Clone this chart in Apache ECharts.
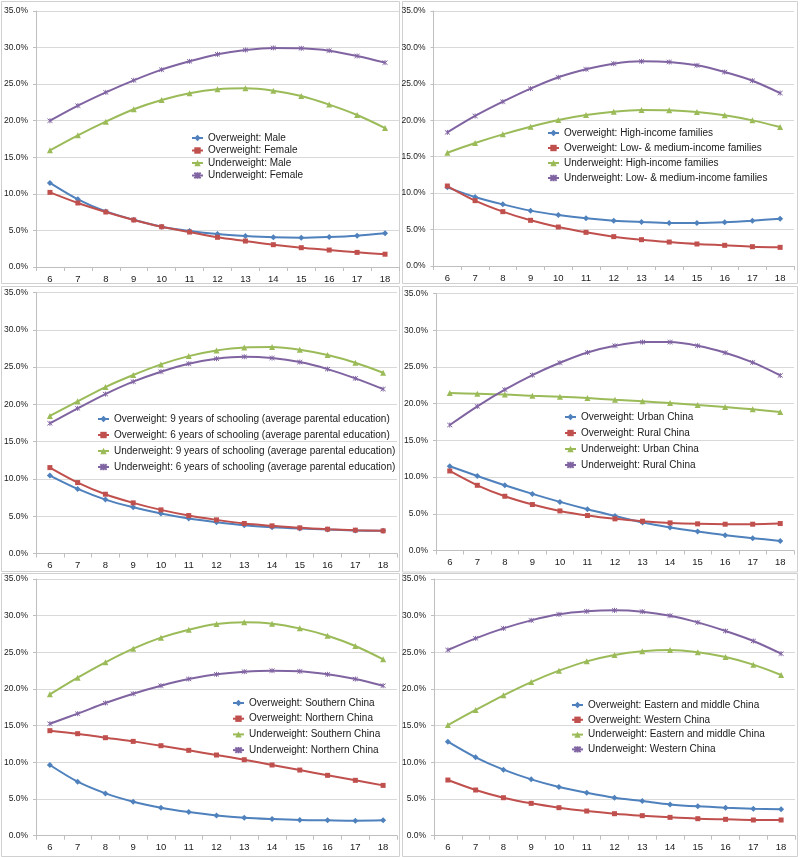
<!DOCTYPE html>
<html>
<head>
<meta charset="utf-8">
<script src="https://cdn.jsdelivr.net/npm/echarts@6/dist/echarts.min.js"></script>
<style>
html,body{margin:0;padding:0;background:#fff;}
#c{width:800px;height:857px;}
</style>
</head>
<body>
<div id="c"></div>
<script>
// Categories (age)
const ages = ['6','7','8','9','10','11','12','13','14','15','16','17','18'];
const yTicks = [0,5,10,15,20,25,30,35];

// Panel 1: gender
const p1Names = ['Overweight: Male','Overweight: Female','Underweight: Male','Underweight: Female'];
const p1OverMale    = [11.5,9.25,7.6,6.45,5.5,4.92,4.5,4.24,4.06,4.0,4.1,4.28,4.6];
const p1OverFemale  = [10.2,8.75,7.52,6.43,5.5,4.78,4.06,3.55,3.05,2.64,2.32,2.0,1.75];
const p1UnderMale   = [15.95,18.0,19.87,21.56,22.83,23.75,24.3,24.43,24.11,23.38,22.2,20.78,19.0];
const p1UnderFemale = [20.0,22.06,23.88,25.52,26.98,28.12,29.08,29.67,29.95,29.9,29.58,28.85,27.94];

// Panel 2: family income
const p2Names = ['Overweight: High-income families','Overweight: Low- & medium-income families','Underweight: High-income families','Underweight: Low- & medium-income families'];
const p2OverHigh  = [10.8,9.47,8.46,7.6,7.0,6.54,6.22,6.04,5.9,5.9,6.0,6.22,6.5];
const p2OverLow   = [10.98,8.97,7.46,6.27,5.35,4.62,4.03,3.61,3.29,3.02,2.84,2.65,2.56];
const p2UnderHigh = [15.55,16.88,18.07,19.12,20.04,20.72,21.18,21.41,21.37,21.13,20.68,19.99,19.08];
const p2UnderLow  = [18.34,20.59,22.55,24.34,25.9,27.0,27.77,28.09,28.0,27.54,26.62,25.43,23.74];

// Panel 3: parental education
const p3Names = ['Overweight: 9 years of schooling (average parental education)','Overweight: 6 years of schooling (average parental education)','Underweight: 9 years of schooling (average parental education)','Underweight: 6 years of schooling (average parental education)'];
const p3Over9  = [10.45,8.66,7.23,6.2,5.36,4.69,4.2,3.79,3.53,3.35,3.21,3.08,3.04];
const p3Over6  = [11.52,9.51,7.95,6.79,5.85,5.09,4.51,4.02,3.71,3.44,3.26,3.13,3.04];
const p3Under9 = [18.44,20.4,22.32,23.93,25.36,26.47,27.23,27.63,27.68,27.32,26.61,25.58,24.24];
const p3Under6 = [17.46,19.46,21.38,23.04,24.38,25.45,26.12,26.38,26.21,25.67,24.73,23.48,22.05];

// Panel 4: urban / rural
const p4Names = ['Overweight: Urban China','Overweight: Rural China','Underweight: Urban China','Underweight: Rural China'];
const p4OverUrban  = [11.47,10.15,8.88,7.71,6.62,5.62,4.71,3.81,3.13,2.58,2.09,1.68,1.31];
const p4OverRural  = [10.83,8.88,7.39,6.26,5.39,4.76,4.31,3.99,3.76,3.63,3.58,3.58,3.67];
const p4UnderUrban = [21.44,21.35,21.26,21.08,20.94,20.76,20.53,20.31,20.08,19.81,19.54,19.22,18.86];
const p4UnderRural = [17.09,19.63,21.9,23.89,25.57,26.97,27.88,28.38,28.38,27.88,26.93,25.61,23.84];

// Panel 5: south / north
const p5Names = ['Overweight: Southern China','Overweight: Northern China','Underweight: Southern China','Underweight: Northern China'];
const p5OverSouth  = [9.64,7.36,5.77,4.64,3.82,3.23,2.77,2.45,2.27,2.14,2.09,2.05,2.09];
const p5OverNorth  = [14.32,13.91,13.36,12.86,12.27,11.64,11.0,10.36,9.64,8.95,8.23,7.55,6.86];
const p5UnderSouth = [19.27,21.55,23.64,25.5,27.0,28.09,28.86,29.09,28.91,28.27,27.27,25.86,24.05];
const p5UnderNorth = [15.27,16.64,18.09,19.36,20.45,21.36,22.0,22.36,22.5,22.41,22.0,21.36,20.45];

// Panel 6: east&middle / west
const p6Names = ['Overweight: Eastern and middle China','Overweight: Western China','Underweight: Eastern and middle China','Underweight: Western China'];
const p6OverEast  = [12.82,10.68,9.0,7.68,6.64,5.86,5.18,4.73,4.27,4.0,3.82,3.68,3.59];
const p6OverWest  = [7.59,6.23,5.18,4.41,3.82,3.36,3.0,2.73,2.5,2.32,2.23,2.14,2.14];
const p6UnderEast = [15.09,17.14,19.14,20.95,22.5,23.77,24.64,25.14,25.32,25.0,24.36,23.32,21.91];
const p6UnderWest = [25.32,26.91,28.27,29.36,30.18,30.59,30.73,30.55,30.0,29.09,27.91,26.55,24.82];

const panels = [
  {names:p1Names, data:[p1OverMale,p1OverFemale,p1UnderMale,p1UnderFemale]},
  {names:p2Names, data:[p2OverHigh,p2OverLow,p2UnderHigh,p2UnderLow]},
  {names:p3Names, data:[p3Over9,p3Over6,p3Under9,p3Under6]},
  {names:p4Names, data:[p4OverUrban,p4OverRural,p4UnderUrban,p4UnderRural]},
  {names:p5Names, data:[p5OverSouth,p5OverNorth,p5UnderSouth,p5UnderNorth]},
  {names:p6Names, data:[p6OverEast,p6OverWest,p6UnderEast,p6UnderWest]}
];

// layout
const grids = [
  {left:36,  top:11,  width:363, height:256},
  {left:433.5, top:11, width:360.5, height:255},
  {left:36,  top:292.5, width:361, height:261},
  {left:436, top:293.5, width:358, height:257},
  {left:36,  top:579, width:361, height:256.7},
  {left:434, top:579, width:361, height:256.7}
];
const legendPos = [
  {left:191, top:133, itemGap:2.5},
  {left:547, top:128, itemGap:5},
  {left:97,  top:414, itemGap:6},
  {left:564, top:412, itemGap:6},
  {left:232, top:698, itemGap:5.7},
  {left:571, top:700, itemGap:4.8}
];
const frames = [
  [1,1,398,282],[402,1,395,282],
  [1,286,398,285],[402,286,395,285.5],
  [1,573,398,283],[402,573,395,283]
];

const colors = ['#4F81BD','#C0504D','#9BBB59','#8064A2'];
const starPath = 'path://M0,0L10,10M10,0L0,10M5,-1L5,11';
const symbols = ['diamond','rect','triangle',starPath];
const symSizes = [6,5,6,5];
const FONT = '"Liberation Sans", Arial, sans-serif';

const option = {
  animation:false,
  backgroundColor:'#ffffff',
  grid:[], xAxis:[], yAxis:[], legend:[], series:[],
  graphic: frames.map(f => ({
    type:'rect', silent:true, z:-1,
    shape:{x:f[0]+0.5,y:f[1]+0.5,width:f[2],height:f[3]},
    style:{fill:'none',stroke:'#d0d0d0',lineWidth:1}
  }))
};

panels.forEach((p,i) => {
  option.grid.push(Object.assign({containLabel:false}, grids[i]));
  option.xAxis.push({
    type:'category', gridIndex:i, data:ages, boundaryGap:true,
    axisLine:{lineStyle:{color:'#bfbfbf',width:1}},
    axisTick:{show:true,length:4,inside:false,lineStyle:{color:'#bfbfbf'}},
    axisLabel:{color:'#1a1a1a',fontSize:9.5,fontFamily:FONT,margin:7,interval:0},
    splitLine:{show:false}
  });
  option.yAxis.push({
    type:'value', gridIndex:i, min:0, max:35, interval:5,
    axisLine:{show:true,lineStyle:{color:'#bfbfbf',width:1}},
    axisTick:{show:true,length:3,lineStyle:{color:'#bfbfbf'}},
    axisLabel:{color:'#1a1a1a',fontSize:8.5,fontFamily:FONT,margin:8,
      formatter:v => v.toFixed(1)+'%'},
    splitLine:{show:true,lineStyle:{color:'#d9d9d9',width:1}}
  });
  option.legend.push({
    orient:'vertical', left:legendPos[i].left, top:legendPos[i].top,
    itemGap:legendPos[i].itemGap, itemWidth:11, itemHeight:8,
    data:p.names,
    textStyle:{color:'#1a1a1a',fontSize:10,fontFamily:FONT},
    padding:0, selectedMode:false
  });
  p.data.forEach((d,k) => {
    option.series.push({
      type:'line', name:p.names[k], xAxisIndex:i, yAxisIndex:i,
      data:d, smooth:0.3,
      symbol:symbols[k], symbolSize:symSizes[k], showSymbol:true,
      lineStyle:{color:colors[k],width:2},
      itemStyle:{color:k===3?'rgba(0,0,0,0)':colors[k], borderColor:colors[k], borderWidth:k===3?1:0},
      emphasis:{disabled:true}
    });
  });
});

const chart = echarts.init(document.getElementById('c'), null, {renderer:'canvas'});
chart.setOption(option);
</script>
</body>
</html>
